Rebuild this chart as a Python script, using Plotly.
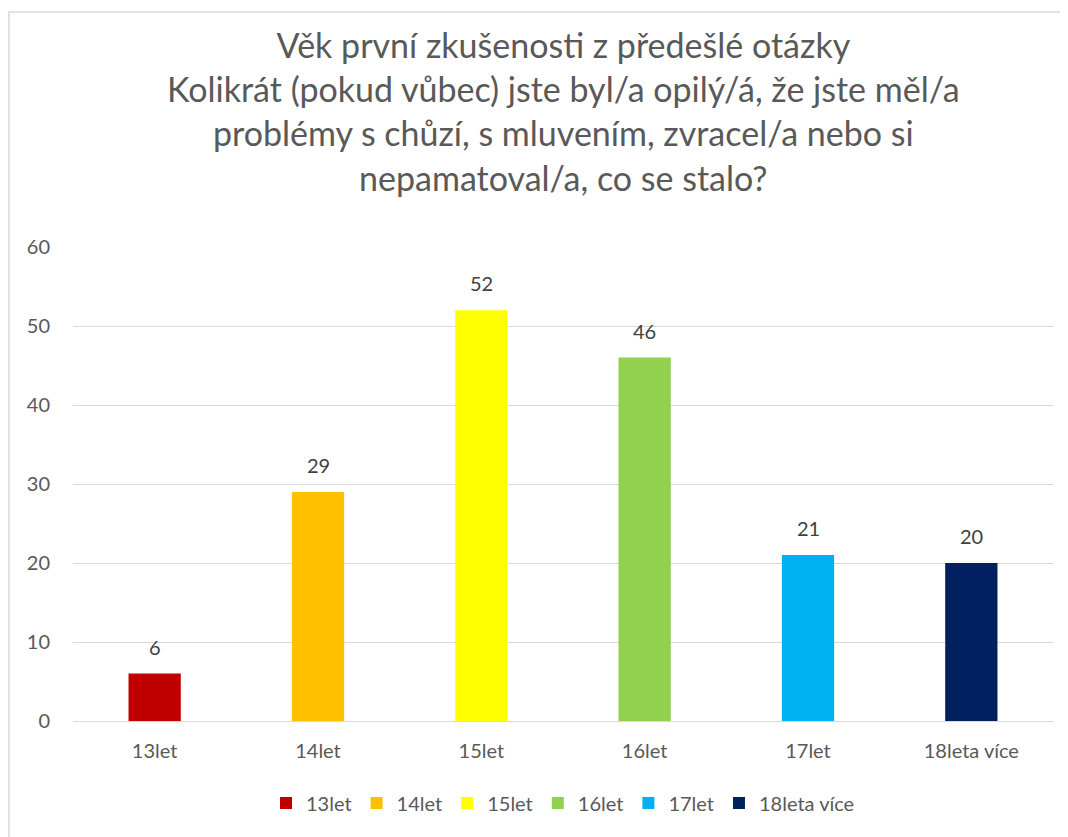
import plotly.graph_objects as go

categories = ["13let", "14let", "15let", "16let", "17let", "18leta více"]
values = [6, 29, 52, 46, 21, 20]
colors = ["#C00000", "#FFC000", "#FFFF00", "#92D050", "#00B0F0", "#002060"]
title_lines = [
    "Věk první zkušenosti z předešlé otázky",
    "Kolikrát (pokud vůbec) jste byl/a opilý/á, že jste měl/a",
    "problémy s chůzí, s mluvením, zvracel/a nebo si",
    "nepamatoval/a, co se stalo?",
]

font_family = "Lato, 'Open Sans', sans-serif"

fig = go.Figure()
for cat, val, col in zip(categories, values, colors):
    fig.add_trace(go.Bar(
        x=[cat], y=[val], name=cat, marker=dict(color=col, line=dict(width=0)),
        width=0.32,
    ))
    fig.add_annotation(
        x=cat, y=val, xref="x", yref="y", text=str(val), showarrow=False,
        yanchor="bottom", yshift=13,
        font=dict(size=20, color="#404040", family=font_family),
    )

# title as a paper annotation (page body has an 8px margin, so figure is 8px smaller)
fig.add_annotation(
    x=0.5, y=1.475, xref="paper", yref="paper", xanchor="center", yanchor="top",
    text="<br>".join(title_lines), showarrow=False,
    font=dict(size=34, color="#595959", family=font_family),
)

fig.update_layout(
    width=1060, height=829,
    margin=dict(l=65, r=15, t=239, b=116, autoexpand=False),
    paper_bgcolor="white", plot_bgcolor="white",
    barmode="relative",
    font=dict(family=font_family, color="#595959", size=20),
    xaxis=dict(
        categoryorder="array", categoryarray=categories,
        showgrid=False, showline=True, linecolor="#D9D9D9", linewidth=1,
        ticks="", tickfont=dict(size=20, color="#595959"), ticklabelstandoff=12,
    ),
    yaxis=dict(
        range=[0, 60], dtick=10, showgrid=True, gridcolor="#D9D9D9",
        zeroline=False, showline=False, ticks="",
        tickfont=dict(size=20, color="#595959"), ticklabelstandoff=22,
    ),
    legend=dict(
        orientation="h", x=0.5, xanchor="center", y=-0.173, yanchor="middle",
        font=dict(size=20, color="#595959"), itemwidth=30,
    ),
)
fig.add_shape(type="rect", xref="paper", yref="paper",
              x0=-0.0653, x1=1.05, y0=-0.3, y1=1.4958,
              line=dict(color="#D9D9D9", width=1.5), fillcolor="rgba(0,0,0,0)", layer="below")

fig.write_html("out.html")
